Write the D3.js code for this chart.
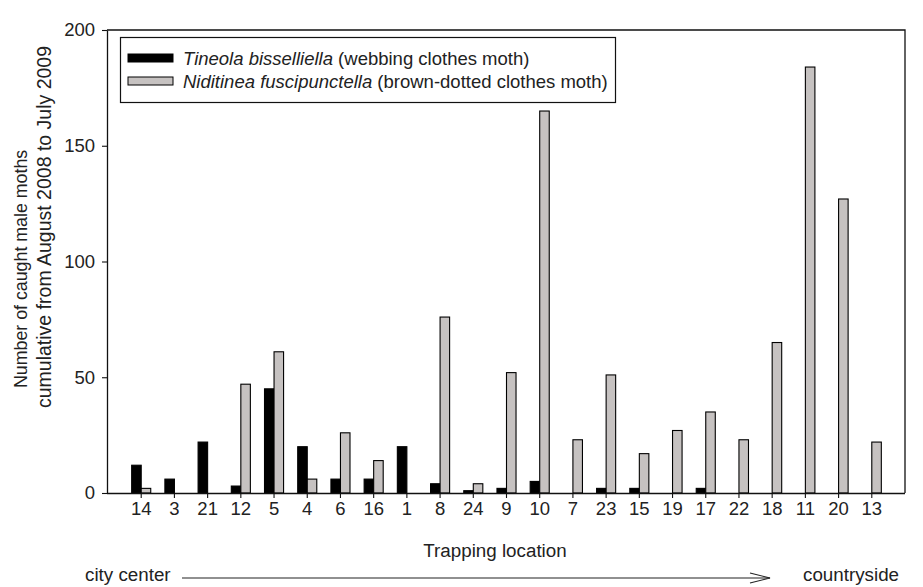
<!DOCTYPE html>
<html>
<head>
<meta charset="utf-8">
<script src="https://cdn.jsdelivr.net/npm/d3@7"></script>
<style>
  html, body { margin: 0; padding: 0; background: #fff; }
  svg { display: block; font-family: "Liberation Sans", Arial, sans-serif; }
</style>
</head>
<body>
<svg id="chart" width="923" height="587"></svg>
<script>
// Trapping locations, ordered from city center to countryside
const locations = ["14","3","21","12","5","4","6","16","1","8","24","9","10","7","23","15","19","17","22","18","11","20","13"];
// Tineola bisselliella (webbing clothes moth)
const tineola = [12, 6, 22, 3, 45, 20, 6, 6, 20, 4, 1, 2, 5, 0, 2, 2, 0, 2, 0, 0, 0, 0, 0];
// Niditinea fuscipunctella (brown-dotted clothes moth)
const niditinea = [2, 0, 0, 47, 61, 6, 26, 14, 0, 76, 4, 52, 165, 23, 51, 17, 27, 35, 23, 65, 184, 127, 22];
const yTicks = [0, 50, 100, 150, 200];
const seriesNames = ["tineola", "niditinea"];

const svg = d3.select("#chart");
const plotL = 107, plotR = 905, plotT = 30, plotB = 493;
const textColor = "#222";
const grayFill = "#c6c2c1";
const fs = "18.5px";

const x = d3.scaleBand().domain(locations).range([plotL + 1, plotR]).paddingInner(0).paddingOuter(0.5);
const y = d3.scaleLinear().domain([0, 200]).range([plotB, plotT]);
const barW = x.bandwidth() * 0.287;
const xs = d3.scaleBand().domain(seriesNames).range([-barW, barW]);

const data = locations.map((loc, i) => ({ loc, tineola: tineola[i], niditinea: niditinea[i] }));

// Frame (top and right)
svg.append("path")
  .attr("d", `M${plotL},${plotT}H${plotR}V${plotB}`)
  .attr("fill", "none").attr("stroke", "#111").attr("stroke-width", 1.3);

// Bars
const g = svg.append("g");
data.forEach(d => {
  seriesNames.forEach(s => {
    const v = d[s];
    if (v <= 0) return;
    const cx = x(d.loc) + x.bandwidth() / 2;
    g.append("rect")
      .attr("x", cx + xs(s))
      .attr("y", y(v))
      .attr("width", xs.bandwidth())
      .attr("height", y(0) - y(v))
      .attr("fill", s === "tineola" ? "#000" : grayFill)
      .attr("stroke", "#000")
      .attr("stroke-width", 1.1);
  });
});

// Y axis
const yAxis = svg.append("g").attr("transform", `translate(${plotL},0)`)
  .call(d3.axisLeft(y).tickValues(yTicks).tickSize(5).tickPadding(7).tickSizeOuter(0));
// X axis
const xAxis = svg.append("g").attr("transform", `translate(0,${plotB})`)
  .call(d3.axisBottom(x).tickSize(5).tickPadding(4).tickSizeOuter(0));
xAxis.select(".domain").attr("d", `M${plotL},0.5H${plotR}`);

[yAxis, xAxis].forEach(a => {
  a.select(".domain").attr("stroke", "#111").attr("stroke-width", 1.3);
  a.selectAll(".tick line").attr("stroke", "#111").attr("stroke-width", 1.1);
  a.selectAll(".tick text").attr("fill", textColor).style("font-size", fs)
    .style("font-family", '"Liberation Sans", Arial, sans-serif');
});

// Y axis title (two lines, drawn bottom-up)
const yTitle = [
  { text: "Number of caught male moths", x: 27, y: 388, size: "17.8px" },
  { text: "cumulative from August 2008 to July 2009", x: 51, y: 408, size: "19.5px" }
];
yTitle.forEach(t => {
  svg.append("text")
    .attr("transform", `translate(${t.x},${t.y}) rotate(-90)`)
    .attr("text-anchor", "start")
    .attr("fill", textColor)
    .style("font-size", t.size)
    .text(t.text);
});

// X axis title
svg.append("text")
  .attr("x", 495).attr("y", 557)
  .attr("text-anchor", "middle").attr("fill", textColor)
  .style("font-size", "18.8px")
  .text("Trapping location");

// City center -> countryside arrow
svg.append("text").attr("x", 85).attr("y", 581).attr("fill", textColor)
  .style("font-size", "18.8px").text("city center");
svg.append("text").attr("x", 803).attr("y", 581).attr("fill", textColor)
  .style("font-size", "18.8px").text("countryside");
svg.append("line").attr("x1", 182).attr("x2", 770).attr("y1", 578).attr("y2", 578)
  .attr("stroke", "#222").attr("stroke-width", 1.2);
svg.append("path").attr("d", "M750,573L770,578L750,583")
  .attr("fill", "none").attr("stroke", "#222").attr("stroke-width", 1.2);

// Legend
const lg = svg.append("g");
lg.append("rect").attr("x", 120.5).attr("y", 37.5).attr("width", 495).attr("height", 65)
  .attr("fill", "#fff").attr("stroke", "#111").attr("stroke-width", 1.2);
const legendItems = [
  { key: "tineola", sci: "Tineola bisselliella", common: " (webbing clothes moth)", fill: "#000" },
  { key: "niditinea", sci: "Niditinea fuscipunctella", common: " (brown-dotted clothes moth)", fill: grayFill }
];
legendItems.forEach((it, i) => {
  const yy = 58 + i * 23;
  lg.append("rect").attr("x", 128).attr("y", yy - 4).attr("width", 45).attr("height", 8)
    .attr("fill", it.fill).attr("stroke", "#000").attr("stroke-width", 1);
  const t = lg.append("text").attr("x", 183).attr("y", yy + 6.5).attr("fill", textColor)
    .style("font-size", "18.5px");
  t.append("tspan").style("font-style", "italic").text(it.sci);
  t.append("tspan").text(it.common);
});
</script>
</body>
</html>
